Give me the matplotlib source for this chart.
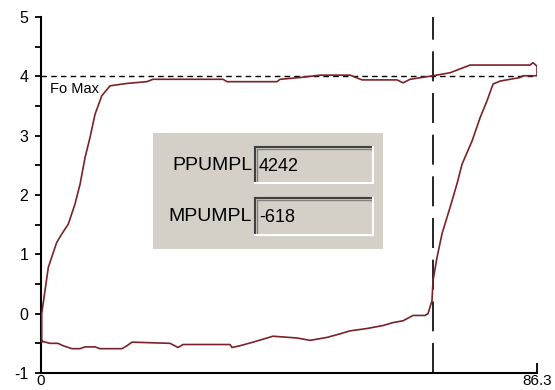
import matplotlib
matplotlib.use("Agg")
import matplotlib.pyplot as plt
from matplotlib.patches import Rectangle
from matplotlib.lines import Line2D

# Curva (posición, valor)
pos = [0.12, 0.12, 0.70, 1.27, 1.86, 2.73, 3.60, 4.75, 5.92, 6.79, 7.66, 8.53,
       9.40, 10.56, 12.01, 14.91, 18.39, 19.49, 31.67, 32.36, 41.07, 41.59,
       45.07, 48.55, 53.77, 55.86, 61.95, 62.99, 64.21, 68.21, 71.17, 74.65,
       81.09, 85.09, 85.61, 86.30, 86.30, 83.87, 83.35, 79.87, 78.65, 77.61,
       76.39, 75.00, 73.26, 72.38, 71.17, 69.78, 68.91, 68.21, 68.03, 67.33,
       66.82, 64.73, 62.99, 61.25, 59.51, 56.73, 53.77, 52.03, 49.77, 46.81,
       44.55, 40.37, 38.63, 36.89, 34.63, 33.23, 32.89, 24.71, 23.84, 22.45,
       15.83, 14.96, 14.09, 10.27, 9.40, 7.66, 6.79, 5.39, 3.83, 2.96, 1.57,
       0.35, 0.12]
valor = [-0.48, 0.0, 0.39, 0.78, 0.95, 1.20, 1.34, 1.51, 1.85, 2.18, 2.63, 2.97,
         3.36, 3.67, 3.84, 3.88, 3.91, 3.95, 3.95, 3.91, 3.91, 3.95,
         3.98, 4.02, 4.02, 3.94, 3.94, 3.89, 3.95, 4.01, 4.06, 4.19,
         4.19, 4.19, 4.23, 4.17, 4.01, 4.01, 3.98, 3.92, 3.87, 3.59,
         3.30, 2.91, 2.52, 2.19, 1.79, 1.35, 0.95, 0.56, 0.22, 0.0,
         -0.03, -0.03, -0.12, -0.15, -0.20, -0.25, -0.29, -0.34, -0.40, -0.45,
         -0.41, -0.38, -0.43, -0.48, -0.54, -0.57, -0.52, -0.52, -0.57, -0.50,
         -0.48, -0.54, -0.59, -0.59, -0.56, -0.56, -0.59, -0.59, -0.54, -0.50, -0.50,
         -0.47, -0.45]

x_max = 86.3
fo_max = 4.0
x_marca = 68.2
y_ticks = [-1, 0, 1, 2, 3, 4, 5]
campos = ["PPUMPL", "MPUMPL"]
valores_campos = ["4242", "-618"]

W, H = 555, 390
fig = plt.figure(figsize=(W / 100, H / 100), dpi=100, facecolor='white')
ax = fig.add_axes([41 / W, 1 - 373 / H, (537 - 41) / W, (373 - 17) / H])
ax.set_facecolor('white')

ax.plot(pos, valor, color='#7A2228', linewidth=1.2, zorder=3)
ax.axhline(fo_max, color='black', linestyle=(0, (4, 3)), linewidth=1.0, zorder=2)
ax.axvline(x_marca, color='black', linestyle=(0, (18, 7)), linewidth=1.2, zorder=2)
ax.text(1.6, 3.9, "Fo Max", fontsize=10.5, family='Liberation Sans',
        va='top', ha='left', zorder=4)

ax.set_xlim(0, x_max)
ax.set_ylim(-1, 5)
ax.set_yticks(y_ticks)
ax.set_yticklabels([str(v) for v in y_ticks])
ax.set_yticks([v + 0.5 for v in y_ticks[:-1]], minor=True)
ax.set_xticks([0, x_max])
ax.set_xticklabels(["0", "86.3"])

for s in ['top', 'right']:
    ax.spines[s].set_visible(False)
for s in ['left', 'bottom']:
    ax.spines[s].set_linewidth(1.5)
    ax.spines[s].set_color('black')

ax.tick_params(axis='y', which='major', direction='out', length=4, width=1.3,
               pad=5, labelsize=11.5)
ax.tick_params(axis='y', which='minor', direction='out', length=4, width=1.3)
ax.tick_params(axis='x', which='major', direction='in', length=7, width=1.3,
               pad=1, labelsize=11)
for lab in ax.get_xticklabels() + ax.get_yticklabels():
    lab.set_family('Liberation Sans')

# Panel gris con los campos
def px(x, y):
    return x / W, 1 - y / H

x0, y0 = px(153, 249)
fig.add_artist(Rectangle((x0, y0), (383 - 153) / W, (249 - 133) / H,
                         transform=fig.transFigure, facecolor='#D4D0C8',
                         edgecolor='none', zorder=5))

filas_y = [(147, 183), (198, 235)]
for nombre, val, (ya, yb) in zip(campos, valores_campos, filas_y):
    xa, xb = 255, 373
    bx, by = px(xa, yb)
    fig.add_artist(Rectangle((bx, by), (xb - xa) / W, (yb - ya) / H,
                             transform=fig.transFigure, facecolor='#D4D0C8',
                             edgecolor='none', zorder=6))
    # borde hundido
    for (p1, p2, c, lw) in [((xa, ya), (xb, ya), '#404040', 1.5),
                            ((xa, ya), (xa, yb), '#404040', 1.5),
                            ((xa + 2, ya + 2), (xb - 2, ya + 2), '#808080', 1.0),
                            ((xa + 2, ya + 2), (xa + 2, yb - 2), '#808080', 1.0),
                            ((xa, yb), (xb, yb), 'white', 1.5),
                            ((xb, ya), (xb, yb), 'white', 1.5)]:
        a, b = px(*p1), px(*p2)
        fig.add_artist(Line2D([a[0], b[0]], [a[1], b[1]], transform=fig.transFigure,
                              color=c, linewidth=lw, zorder=7))
    tx, ty = px(252, (ya + yb) / 2)
    fig.text(tx, ty, nombre, ha='right', va='center', fontsize=14,
             family='Liberation Sans', zorder=8)
    vx, vy = px(259, (ya + yb) / 2 + 1)
    fig.text(vx, vy, val, ha='left', va='center', fontsize=13,
             family='Liberation Sans', zorder=8)

fig.savefig('out.png', dpi=100, facecolor='white')
